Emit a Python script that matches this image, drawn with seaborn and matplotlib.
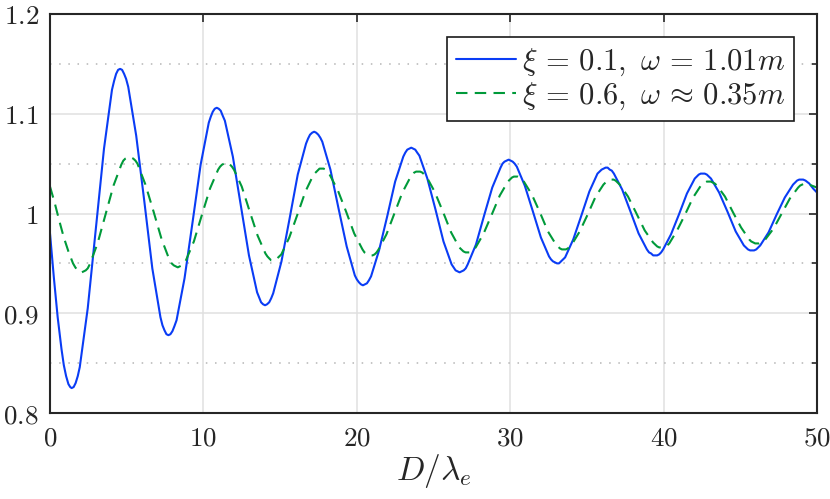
import numpy as np
import pandas as pd
import matplotlib
matplotlib.use('Agg')
import matplotlib.pyplot as plt
import seaborn as sns
from matplotlib.ticker import MultipleLocator

# ── data ─────────────────────────────────────────────────────────────────────
blue_x = [0, 0.25, 0.5, 0.75, 0.9, 1.05, 1.2, 1.32, 1.41,
          1.54, 1.67, 1.81, 1.94, 2.46, 2.99, 3.52, 4.04, 4.18, 4.31, 4.44, 4.57,
          4.70, 4.83, 4.96, 5.10, 5.62, 6.15, 6.67, 7.20, 7.33, 7.46, 7.59, 7.72,
          7.85, 7.98, 8.11, 8.25, 8.77, 9.30, 9.82, 10.35, 10.48, 10.61, 10.74, 10.87,
          11.00, 11.13, 11.26, 11.40, 11.92, 12.45, 12.97, 13.50, 13.63, 13.76, 13.89, 14.02,
          14.15, 14.29, 14.42, 14.55, 15.09, 15.62, 16.15, 16.69, 16.82, 16.95, 17.09, 17.22,
          17.35, 17.49, 17.62, 17.75, 18.28, 18.81, 19.34, 19.87, 20.00, 20.14, 20.27, 20.40,
          20.53, 20.66, 20.79, 20.93, 21.45, 21.98, 22.50, 23.03, 23.16, 23.29, 23.42, 23.55,
          23.68, 23.81, 23.94, 24.08, 24.60, 25.13, 25.65, 26.18, 26.31, 26.44, 26.57, 26.70,
          26.83, 26.97, 27.10, 27.23, 27.77, 28.30, 28.83, 29.37, 29.50, 29.63, 29.77, 29.90,
          30.03, 30.16, 30.29, 30.43, 30.95, 31.48, 32.00, 32.53, 32.66, 32.79, 32.92, 33.05,
          33.18, 33.31, 33.45, 33.58, 34.11, 34.64, 35.16, 35.69, 35.82, 35.96, 36.09, 36.22,
          36.35, 36.49, 36.62, 36.76, 37.30, 37.84, 38.37, 38.91, 39.05, 39.18, 39.32, 39.45,
          39.58, 39.71, 39.84, 39.97, 40.48, 41.00, 41.52, 42.03, 42.16, 42.29, 42.42, 42.55,
          42.68, 42.82, 42.95, 43.09, 43.62, 44.16, 44.70, 45.23, 45.37, 45.50, 45.64, 45.77,
          45.90, 46.04, 46.17, 46.30, 46.84, 47.37, 47.90, 48.44, 48.57, 48.70, 48.84, 48.97,
          49.10, 49.25, 49.50, 49.75, 50.0]
blue_y = [0.980, 0.936, 0.896, 0.864, 0.848, 0.837, 0.829, 0.826, 0.825,
          0.826, 0.830, 0.837, 0.846, 0.905, 0.985, 1.065, 1.124, 1.133, 1.140, 1.144, 1.145,
          1.144, 1.140, 1.135, 1.127, 1.078, 1.012, 0.945, 0.896, 0.888, 0.883, 0.879, 0.878,
          0.879, 0.882, 0.887, 0.893, 0.935, 0.992, 1.049, 1.091, 1.097, 1.102, 1.105, 1.106,
          1.105, 1.103, 1.098, 1.093, 1.057, 1.007, 0.958, 0.921, 0.916, 0.911, 0.909, 0.908,
          0.909, 0.911, 0.915, 0.920, 0.952, 0.995, 1.039, 1.070, 1.075, 1.079, 1.081, 1.082,
          1.081, 1.079, 1.076, 1.072, 1.044, 1.005, 0.967, 0.938, 0.934, 0.931, 0.929, 0.928,
          0.929, 0.930, 0.933, 0.937, 0.963, 0.997, 1.032, 1.057, 1.061, 1.064, 1.065, 1.066,
          1.065, 1.064, 1.061, 1.058, 1.035, 1.004, 0.972, 0.949, 0.946, 0.943, 0.942, 0.941,
          0.942, 0.943, 0.945, 0.949, 0.969, 0.998, 1.026, 1.046, 1.050, 1.052, 1.053, 1.054,
          1.053, 1.052, 1.050, 1.047, 1.028, 1.002, 0.976, 0.957, 0.954, 0.952, 0.951, 0.950,
          0.950, 0.952, 0.954, 0.956, 0.974, 0.998, 1.022, 1.040, 1.042, 1.044, 1.045, 1.046,
          1.046, 1.044, 1.043, 1.040, 1.024, 1.002, 0.980, 0.964, 0.961, 0.960, 0.958, 0.958,
          0.958, 0.959, 0.961, 0.964, 0.979, 0.999, 1.020, 1.035, 1.037, 1.039, 1.040, 1.040,
          1.040, 1.039, 1.037, 1.035, 1.021, 1.002, 0.982, 0.968, 0.966, 0.964, 0.963, 0.963,
          0.963, 0.964, 0.966, 0.968, 0.981, 0.999, 1.016, 1.029, 1.031, 1.033, 1.034, 1.034,
          1.034, 1.033, 1.030, 1.025, 1.021]

green_x = [0, 0.3, 0.6, 0.9, 1.2, 1.5, 1.65, 1.8, 1.95, 2.07,
           2.20, 2.33, 2.46, 2.59, 3.10, 3.62, 4.14, 4.65, 4.78, 4.91, 5.04, 5.17,
           5.30, 5.43, 5.57, 5.70, 6.22, 6.75, 7.28, 7.80, 7.93, 8.07, 8.20, 8.33,
           8.46, 8.59, 8.72, 8.86, 9.38, 9.91, 10.43, 10.96, 11.09, 11.22, 11.35, 11.48,
           11.61, 11.74, 11.86, 11.99, 12.50, 13.02, 13.53, 14.04, 14.17, 14.29, 14.42, 14.55,
           14.68, 14.81, 14.94, 15.08, 15.60, 16.13, 16.65, 17.18, 17.31, 17.44, 17.57, 17.70,
           17.83, 17.97, 18.10, 18.23, 18.77, 19.30, 19.83, 20.37, 20.50, 20.63, 20.77, 20.90,
           21.03, 21.16, 21.29, 21.42, 21.93, 22.45, 22.97, 23.48, 23.61, 23.74, 23.87, 24.00,
           24.13, 24.27, 24.40, 24.54, 25.07, 25.61, 26.15, 26.68, 26.82, 26.95, 27.09, 27.22,
           27.35, 27.48, 27.61, 27.75, 28.27, 28.80, 29.32, 29.85, 29.98, 30.11, 30.24, 30.37,
           30.50, 30.63, 30.76, 30.89, 31.41, 31.94, 32.46, 32.98, 33.11, 33.24, 33.37, 33.50,
           33.63, 33.76, 33.89, 34.02, 34.53, 35.05, 35.57, 36.08, 36.21, 36.34, 36.47, 36.60,
           36.74, 36.87, 37.01, 37.14, 37.68, 38.23, 38.77, 39.31, 39.44, 39.58, 39.71, 39.85,
           39.98, 40.11, 40.24, 40.37, 40.88, 41.40, 41.92, 42.43, 42.56, 42.69, 42.82, 42.95,
           43.08, 43.21, 43.34, 43.48, 44.00, 44.53, 45.05, 45.58, 45.71, 45.84, 45.97, 46.10,
           46.23, 46.37, 46.50, 46.63, 47.17, 47.70, 48.23, 48.77, 48.90, 49.03, 49.17, 49.30,
           49.65, 50.0]
green_y = [1.027, 1.011, 0.993, 0.976, 0.962, 0.950, 0.946, 0.943, 0.941, 0.941,
           0.942, 0.943, 0.945, 0.949, 0.970, 0.999, 1.028, 1.049, 1.053, 1.055, 1.056, 1.057,
           1.056, 1.055, 1.053, 1.050, 1.029, 1.002, 0.974, 0.953, 0.950, 0.948, 0.947, 0.946,
           0.947, 0.948, 0.950, 0.953, 0.972, 0.999, 1.025, 1.044, 1.047, 1.049, 1.050, 1.051,
           1.051, 1.049, 1.047, 1.044, 1.027, 1.002, 0.978, 0.960, 0.957, 0.955, 0.953, 0.953,
           0.953, 0.955, 0.957, 0.959, 0.976, 0.999, 1.022, 1.039, 1.041, 1.043, 1.045, 1.045,
           1.045, 1.044, 1.042, 1.039, 1.023, 1.002, 0.980, 0.964, 0.961, 0.960, 0.958, 0.958,
           0.958, 0.959, 0.961, 0.964, 0.979, 1.000, 1.021, 1.036, 1.039, 1.041, 1.042, 1.042,
           1.042, 1.041, 1.039, 1.037, 1.022, 1.002, 0.981, 0.966, 0.964, 0.962, 0.961, 0.961,
           0.961, 0.962, 0.964, 0.966, 0.980, 0.999, 1.018, 1.032, 1.034, 1.036, 1.037, 1.037,
           1.037, 1.036, 1.034, 1.032, 1.019, 1.001, 0.982, 0.969, 0.967, 0.965, 0.964, 0.964,
           0.964, 0.965, 0.967, 0.969, 0.982, 0.999, 1.017, 1.029, 1.031, 1.033, 1.034, 1.034,
           1.034, 1.033, 1.031, 1.029, 1.017, 1.000, 0.983, 0.971, 0.969, 0.967, 0.966, 0.966,
           0.966, 0.967, 0.968, 0.970, 0.983, 0.999, 1.016, 1.028, 1.030, 1.031, 1.032, 1.032,
           1.032, 1.031, 1.030, 1.028, 1.017, 1.001, 0.986, 0.974, 0.972, 0.971, 0.970, 0.970,
           0.970, 0.971, 0.972, 0.974, 0.985, 1.000, 1.015, 1.026, 1.028, 1.029, 1.030, 1.030,
           1.028, 1.026]

series_labels = [r'$\xi\,=\,0.1,\ \omega\,=\,1.01m$',
                 r'$\xi\,=\,0.6,\ \omega\,\approx\,0.35m$']
x_ticks = [0, 10, 20, 30, 40, 50]
x_ticklabels = ['$0$', '$10$', '$20$', '$30$', '$40$', '$50$']
y_ticks = [0.8, 0.9, 1.0, 1.1, 1.2]
y_ticklabels = ['$0.8$', '$0.9$', '$1$', '$1.1$', '$1.2$']
x_label = r'$D/\lambda_e$'

# ── style ────────────────────────────────────────────────────────────────────
sns.set_style('white')
plt.rcParams['mathtext.fontset'] = 'cm'
plt.rcParams['font.family'] = ['DejaVu Sans']

ax_col = '#262626'
blue = '#0a3cf5'
green = '#009a3a'

fig = plt.figure(figsize=(8.3, 4.99), dpi=100)
ax = fig.add_axes([50 / 830, 1 - 413 / 499, 767 / 830, 399 / 499])

sns.lineplot(x=blue_x, y=blue_y, ax=ax, color=blue, lw=1.5,
             label=series_labels[0], sort=False)
sns.lineplot(x=green_x, y=green_y, ax=ax, color=green, lw=1.5,
             label=series_labels[1], sort=False)
ax.lines[1].set_linestyle((0, (5.5, 3.5)))

ax.set_xlim(0, 50)
ax.set_ylim(0.8, 1.2)
ax.set_xticks(x_ticks, x_ticklabels)
ax.set_yticks(y_ticks, y_ticklabels)
ax.yaxis.set_minor_locator(MultipleLocator(0.05))

ax.grid(True, which='major', color='#e0e0e0', lw=1.1, ls='-')
ax.grid(True, which='minor', axis='y', color='#b5b5b5', lw=1.1,
        ls=(0, (1, 5)))
ax.set_axisbelow(True)

ax.tick_params(which='both', direction='in', top=True, right=True,
               color=ax_col, width=1.2, labelsize=19.5, labelcolor=ax_col)
ax.tick_params(which='major', length=5.8)
ax.tick_params(which='minor', length=3.6)
ax.tick_params(axis='y', pad=8)
ax.tick_params(axis='x', pad=9)
for sp in ax.spines.values():
    sp.set_color(ax_col)
    sp.set_linewidth(1.5)

ax.set_xlabel(x_label, fontsize=24, color=ax_col, labelpad=0)
ax.set_ylabel('')

leg = ax.legend(loc='upper right', fontsize=22, frameon=True, fancybox=False,
                framealpha=1, edgecolor='#1a1a1a', handlelength=1.95,
                handletextpad=0.2, labelspacing=0.1, borderpad=0.3,
                borderaxespad=0.75)
leg.get_frame().set_linewidth(1.2)

fig.savefig('out.png', dpi=100, facecolor='white')
